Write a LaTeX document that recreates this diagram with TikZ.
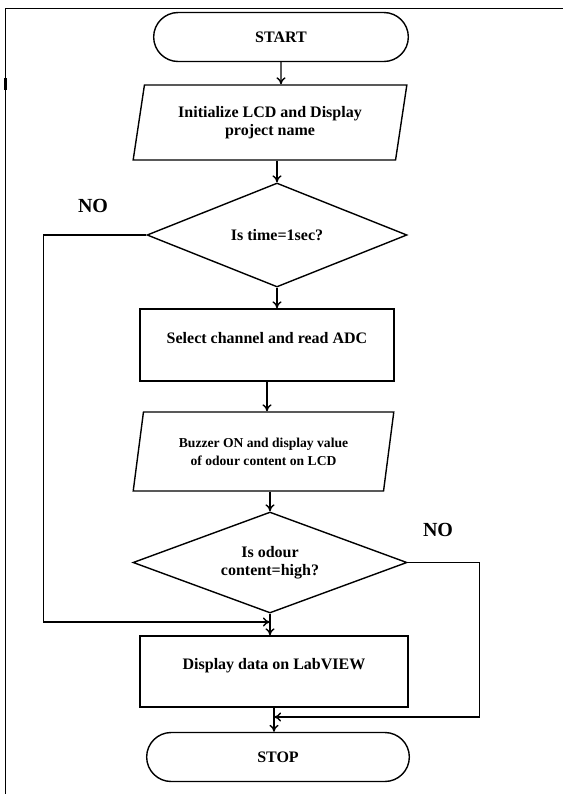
\documentclass[tikz,border=0pt]{standalone}
\usepackage{fontspec}
\setmainfont{Liberation Serif}
\usetikzlibrary{shapes.geometric,shapes.misc,arrows.meta}

\begin{document}
\begin{tikzpicture}[x=0.5pt, y=-0.5pt, line width=0.7pt,
    >={To[length=3.5pt,width=4.5pt]},
    every node/.style={font=\fontsize{8}{9}\selectfont\bfseries, align=center},
    terminal/.style={draw, rounded rectangle, minimum height=24.5pt},
    io/.style={draw, trapezium, trapezium left angle=78, trapezium right angle=102,
               trapezium stretches=true, inner sep=2pt},
    decision/.style={draw, diamond, aspect=2.6, inner sep=0pt},
    process/.style={draw, rectangle, text height=5.6pt, text depth=7.2pt},
    nolabel/.style={font=\fontsize{10}{11}\selectfont\bfseries}]
    % Page size and the frame lines of the scan
    \useasboundingbox (0,0) rectangle (563,794);
    \draw (5.5,794) -- (5.5,8.5) -- (563,8.5);
    \draw[line width=1.6pt] (5.5,78) -- (5.5,90);

    % Main column, top to bottom
    \node[terminal, minimum width=134pt] (start) at (281,37) {START};
    \node[io, minimum width=137pt, minimum height=37.5pt] (init) at (270,122.5)
        {Initialize LCD and Display\\project name};
    \node[decision, minimum width=130pt, minimum height=52pt] (timeq) at (277,235)
        {Is time=1sec?};
    \node[process, minimum width=127pt, minimum height=36pt] (adc) at (267,345)
        {Select channel and read ADC};
    \node[io, minimum width=131.5pt, minimum height=39.5pt,
          font=\fontsize{6.8}{9}\selectfont\bfseries] (buzz) at (263.5,451.5)
        {Buzzer ON and display value\\of odour content on LCD};
    \node[decision, minimum width=137pt, minimum height=50.5pt] (odourq) at (270,562.5)
        {Is odour\\content=high?};
    \node[process, minimum width=134pt, minimum height=35.5pt] (labview) at (274,671.5)
        {Display data on LabVIEW};
    \node[terminal, minimum width=138pt] (stop) at (278,757) {STOP};

    % NO branches
    \node[nolabel] (noA) at (93,206) {NO};
    \node[nolabel] (noB) at (438,530) {NO};
    \coordinate (joinA) at (270,622);
    \coordinate (joinB) at (274,717);

    % Straight flow
    \draw[->] (start) -- (start |- init.north);
    \draw[->] (timeq.north |- init.south) -- (timeq.north);
    \draw[->] (timeq.south) -- (timeq.south |- adc.north);
    \draw[->] (adc.south) -- (adc.south |- buzz.north);
    \draw[->] (odourq.north |- buzz.south) -- (odourq.north);
    \draw[->] (odourq.south) -- (odourq.south |- labview.north);
    \draw[->] (labview.south) -- (labview.south |- stop.north);

    % Loops back into the column
    \draw[->] (timeq.west) -- ++(-103,0) |- (joinA);
    \draw[->] (odourq.east) -- ++(72,0) |- (joinB);
\end{tikzpicture}
\end{document}
